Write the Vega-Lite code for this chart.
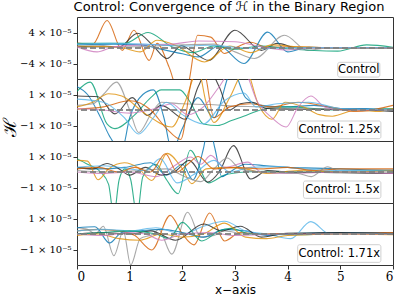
{
"$schema": "https://vega.github.io/schema/vega-lite/v6.json",
"padding": {"left": 0, "top": 0, "right": 3, "bottom": 2},
"spacing": 0,
"bounds": "flush",
"config": {
 "view": {"stroke": "#333", "strokeWidth": 1},
 "font": "DejaVu Sans",
 "axis": {"zindex": 1, "grid": false, "domain": false, "tickColor": "#333", "tickSize": 4, "labelFont": "DejaVu Serif", "labelFontSize": 10, "labelColor": "#000", "labelPadding": 2, "labelOverlap": false, "labelBound": false, "titleFontWeight": "normal"}
},
"datasets": {"d": [
{"p":1,"s":"red","x":0,"y":1.3},{"p":1,"s":"red","x":0.3,"y":1.0},{"p":1,"s":"red","x":0.57,"y":7.1},{"p":1,"s":"red","x":0.86,"y":-0.6},{"p":1,"s":"red","x":1.08,"y":4.6},{"p":1,"s":"red","x":1.37,"y":-3.2},{"p":1,"s":"red","x":1.52,"y":1.2},{"p":1,"s":"red","x":1.75,"y":-5},{"p":1,"s":"red","x":1.95,"y":-12},{"p":1,"s":"red","x":2.1,"y":-10},{"p":1,"s":"red","x":2.29,"y":3.3},{"p":1,"s":"red","x":2.54,"y":2.8},{"p":1,"s":"red","x":2.8,"y":-1.4},{"p":1,"s":"red","x":3.05,"y":0.3},{"p":1,"s":"red","x":3.3,"y":1.5},{"p":1,"s":"red","x":3.6,"y":0.2},{"p":1,"s":"red","x":4,"y":0.3},{"p":1,"s":"red","x":5,"y":0.1},{"p":1,"s":"red","x":6,"y":0.1},
{"p":1,"s":"dark","x":0,"y":0.3},{"p":1,"s":"dark","x":0.5,"y":0.5},{"p":1,"s":"dark","x":0.8,"y":0.3},{"p":1,"s":"dark","x":1.15,"y":3.8},{"p":1,"s":"dark","x":1.45,"y":0.5},{"p":1,"s":"dark","x":1.71,"y":-2.7},{"p":1,"s":"dark","x":1.98,"y":0.6},{"p":1,"s":"dark","x":2.2,"y":-1.0},{"p":1,"s":"dark","x":2.5,"y":-3.2},{"p":1,"s":"dark","x":3.0,"y":4.6},{"p":1,"s":"dark","x":3.5,"y":-0.6},{"p":1,"s":"dark","x":3.8,"y":1.2},{"p":1,"s":"dark","x":4.2,"y":0},{"p":1,"s":"dark","x":5,"y":0.1},{"p":1,"s":"dark","x":6,"y":0},
{"p":1,"s":"blue","x":0,"y":0.8},{"p":1,"s":"blue","x":0.7,"y":1.0},{"p":1,"s":"blue","x":1.2,"y":0.8},{"p":1,"s":"blue","x":1.6,"y":-0.3},{"p":1,"s":"blue","x":2.0,"y":-1.5},{"p":1,"s":"blue","x":2.3,"y":-2.3},{"p":1,"s":"blue","x":2.7,"y":0.5},{"p":1,"s":"blue","x":3.17,"y":-4.0},{"p":1,"s":"blue","x":3.62,"y":4.1},{"p":1,"s":"blue","x":4.0,"y":-1.0},{"p":1,"s":"blue","x":4.4,"y":0.2},{"p":1,"s":"blue","x":5,"y":0},{"p":1,"s":"blue","x":6,"y":0},
{"p":1,"s":"gray","x":0,"y":0.2},{"p":1,"s":"gray","x":1,"y":0.3},{"p":1,"s":"gray","x":2.0,"y":0.8},{"p":1,"s":"gray","x":2.6,"y":1.0},{"p":1,"s":"gray","x":3.0,"y":-1.0},{"p":1,"s":"gray","x":3.37,"y":-2.7},{"p":1,"s":"gray","x":3.94,"y":3.3},{"p":1,"s":"gray","x":4.38,"y":-0.6},{"p":1,"s":"gray","x":4.8,"y":0.1},{"p":1,"s":"gray","x":6,"y":0},
{"p":1,"s":"green","x":0,"y":1.2},{"p":1,"s":"green","x":0.9,"y":1.2},{"p":1,"s":"green","x":1.35,"y":4.0},{"p":1,"s":"green","x":1.8,"y":0.3},{"p":1,"s":"green","x":2.2,"y":-1.2},{"p":1,"s":"green","x":2.6,"y":0.5},{"p":1,"s":"green","x":3.0,"y":-0.3},{"p":1,"s":"green","x":3.5,"y":0.5},{"p":1,"s":"green","x":4,"y":-0.2},{"p":1,"s":"green","x":4.95,"y":-0.8},{"p":1,"s":"green","x":5.5,"y":0.8},{"p":1,"s":"green","x":6,"y":0.2},
{"p":1,"s":"gold","x":0,"y":0.5},{"p":1,"s":"gold","x":0.8,"y":0.2},{"p":1,"s":"gold","x":1.2,"y":-1.0},{"p":1,"s":"gold","x":1.52,"y":2.0},{"p":1,"s":"gold","x":1.9,"y":0.5},{"p":1,"s":"gold","x":2.42,"y":-3.6},{"p":1,"s":"gold","x":2.9,"y":0.5},{"p":1,"s":"gold","x":3.3,"y":-1.2},{"p":1,"s":"gold","x":3.7,"y":0.8},{"p":1,"s":"gold","x":4.2,"y":0.3},{"p":1,"s":"gold","x":5,"y":0},{"p":1,"s":"gold","x":6,"y":0},
{"p":1,"s":"pink","x":0,"y":0.3},{"p":1,"s":"pink","x":0.38,"y":-1.0},{"p":1,"s":"pink","x":0.7,"y":0.3},{"p":1,"s":"pink","x":1.2,"y":0.8},{"p":1,"s":"pink","x":1.8,"y":1.0},{"p":1,"s":"pink","x":2.3,"y":1.8},{"p":1,"s":"pink","x":3.0,"y":1.6},{"p":1,"s":"pink","x":3.5,"y":0.3},{"p":1,"s":"pink","x":4.0,"y":-0.5},{"p":1,"s":"pink","x":4.6,"y":0.1},{"p":1,"s":"pink","x":6,"y":0},
{"p":1,"s":"lblue","x":0,"y":1.0},{"p":1,"s":"lblue","x":0.6,"y":1.2},{"p":1,"s":"lblue","x":1.3,"y":1.0},{"p":1,"s":"lblue","x":2.0,"y":0.5},{"p":1,"s":"lblue","x":2.5,"y":0.7},{"p":1,"s":"lblue","x":3.0,"y":0.2},{"p":1,"s":"lblue","x":3.5,"y":-0.2},{"p":1,"s":"lblue","x":4,"y":0.1},{"p":1,"s":"lblue","x":6,"y":0.05},

{"p":2,"s":"blue","x":0,"y":1.5},{"p":2,"s":"blue","x":0.2,"y":1.0},{"p":2,"s":"blue","x":0.45,"y":-0.5},{"p":2,"s":"blue","x":0.62,"y":-1.7},{"p":2,"s":"blue","x":0.85,"y":-2.6},{"p":2,"s":"blue","x":1.0,"y":-0.5},{"p":2,"s":"blue","x":1.25,"y":1.0},{"p":2,"s":"blue","x":1.45,"y":1.3},{"p":2,"s":"blue","x":1.65,"y":-0.5},{"p":2,"s":"blue","x":1.8,"y":-2.6},{"p":2,"s":"blue","x":2.0,"y":-1.2},{"p":2,"s":"blue","x":2.3,"y":0.8},{"p":2,"s":"blue","x":2.6,"y":-0.5},{"p":2,"s":"blue","x":2.95,"y":2.6},{"p":2,"s":"blue","x":3.2,"y":0.8},{"p":2,"s":"blue","x":3.5,"y":0.3},{"p":2,"s":"blue","x":4,"y":0.2},{"p":2,"s":"blue","x":4.5,"y":0.3},{"p":2,"s":"blue","x":5,"y":0.1},{"p":2,"s":"blue","x":5.5,"y":0.1},{"p":2,"s":"blue","x":6,"y":0},
{"p":2,"s":"green","x":0,"y":1.2},{"p":2,"s":"green","x":0.25,"y":1.8},{"p":2,"s":"green","x":0.57,"y":-0.9},{"p":2,"s":"green","x":0.72,"y":-1.2},{"p":2,"s":"green","x":1.1,"y":-0.3},{"p":2,"s":"green","x":1.4,"y":0.8},{"p":2,"s":"green","x":1.6,"y":1.3},{"p":2,"s":"green","x":1.95,"y":1.3},{"p":2,"s":"green","x":2.15,"y":0.5},{"p":2,"s":"green","x":2.4,"y":-0.9},{"p":2,"s":"green","x":2.67,"y":-1.0},{"p":2,"s":"green","x":2.92,"y":-0.7},{"p":2,"s":"green","x":3.24,"y":-0.3},{"p":2,"s":"green","x":3.6,"y":0.1},{"p":2,"s":"green","x":4,"y":0.2},{"p":2,"s":"green","x":4.5,"y":0.1},{"p":2,"s":"green","x":5,"y":0},{"p":2,"s":"green","x":6,"y":0.1},
{"p":2,"s":"gray","x":0,"y":0.3},{"p":2,"s":"gray","x":0.3,"y":0.4},{"p":2,"s":"gray","x":0.5,"y":1.0},{"p":2,"s":"gray","x":0.75,"y":1.8},{"p":2,"s":"gray","x":1.0,"y":0},{"p":2,"s":"gray","x":1.17,"y":-1.45},{"p":2,"s":"gray","x":1.4,"y":-0.3},{"p":2,"s":"gray","x":1.6,"y":0.5},{"p":2,"s":"gray","x":2.0,"y":0.4},{"p":2,"s":"gray","x":2.5,"y":0.35},{"p":2,"s":"gray","x":3.0,"y":0.25},{"p":2,"s":"gray","x":3.5,"y":0.2},{"p":2,"s":"gray","x":4,"y":0.1},{"p":2,"s":"gray","x":5,"y":0.05},{"p":2,"s":"gray","x":6,"y":0},
{"p":2,"s":"dark","x":0,"y":0.9},{"p":2,"s":"dark","x":0.4,"y":0.85},{"p":2,"s":"dark","x":0.72,"y":-0.25},{"p":2,"s":"dark","x":1.05,"y":0.8},{"p":2,"s":"dark","x":1.33,"y":-0.35},{"p":2,"s":"dark","x":1.6,"y":0.3},{"p":2,"s":"dark","x":2.06,"y":-0.6},{"p":2,"s":"dark","x":2.3,"y":1.5},{"p":2,"s":"dark","x":2.5,"y":2.6},{"p":2,"s":"dark","x":2.7,"y":1.5},{"p":2,"s":"dark","x":2.89,"y":0},{"p":2,"s":"dark","x":3.1,"y":0.4},{"p":2,"s":"dark","x":3.33,"y":0.5},{"p":2,"s":"dark","x":3.6,"y":0.1},{"p":2,"s":"dark","x":4,"y":0.05},{"p":2,"s":"dark","x":5,"y":0.05},{"p":2,"s":"dark","x":6,"y":-0.1},
{"p":2,"s":"gold","x":0,"y":0.2},{"p":2,"s":"gold","x":0.3,"y":0.5},{"p":2,"s":"gold","x":0.6,"y":1.05},{"p":2,"s":"gold","x":0.85,"y":0.9},{"p":2,"s":"gold","x":1.3,"y":-0.25},{"p":2,"s":"gold","x":1.8,"y":-1.1},{"p":2,"s":"gold","x":2.05,"y":0.5},{"p":2,"s":"gold","x":2.3,"y":2.6},{"p":2,"s":"gold","x":2.45,"y":0.5},{"p":2,"s":"gold","x":2.6,"y":-0.8},{"p":2,"s":"gold","x":2.9,"y":0.8},{"p":2,"s":"gold","x":3.2,"y":2.6},{"p":2,"s":"gold","x":3.45,"y":0.3},{"p":2,"s":"gold","x":3.7,"y":-0.6},{"p":2,"s":"gold","x":3.95,"y":0.5},{"p":2,"s":"gold","x":4.3,"y":0.2},{"p":2,"s":"gold","x":4.6,"y":-0.3},{"p":2,"s":"gold","x":4.85,"y":-0.4},{"p":2,"s":"gold","x":5.3,"y":0},{"p":2,"s":"gold","x":5.7,"y":-0.1},{"p":2,"s":"gold","x":6,"y":0.1},
{"p":2,"s":"red","x":0,"y":0.05},{"p":2,"s":"red","x":0.5,"y":0.2},{"p":2,"s":"red","x":1.0,"y":0.6},{"p":2,"s":"red","x":1.4,"y":0},{"p":2,"s":"red","x":1.7,"y":-1.2},{"p":2,"s":"red","x":1.97,"y":-1.9},{"p":2,"s":"red","x":2.2,"y":2.2},{"p":2,"s":"red","x":2.4,"y":2.6},{"p":2,"s":"red","x":2.6,"y":-0.5},{"p":2,"s":"red","x":2.9,"y":0.2},{"p":2,"s":"red","x":3.3,"y":0.4},{"p":2,"s":"red","x":3.7,"y":0.2},{"p":2,"s":"red","x":4.2,"y":0.5},{"p":2,"s":"red","x":4.8,"y":0.2},{"p":2,"s":"red","x":5.3,"y":-0.1},{"p":2,"s":"red","x":6,"y":0.3},
{"p":2,"s":"pink","x":0,"y":0.1},{"p":2,"s":"pink","x":0.5,"y":0},{"p":2,"s":"pink","x":1.0,"y":-0.2},{"p":2,"s":"pink","x":1.5,"y":0.1},{"p":2,"s":"pink","x":1.8,"y":0.4},{"p":2,"s":"pink","x":2.1,"y":-0.3},{"p":2,"s":"pink","x":2.4,"y":0.2},{"p":2,"s":"pink","x":2.7,"y":1.5},{"p":2,"s":"pink","x":2.95,"y":2.6},{"p":2,"s":"pink","x":3.15,"y":2.6},{"p":2,"s":"pink","x":3.43,"y":0.5},{"p":2,"s":"pink","x":3.7,"y":-0.5},{"p":2,"s":"pink","x":3.97,"y":-1.1},{"p":2,"s":"pink","x":4.2,"y":0.2},{"p":2,"s":"pink","x":4.44,"y":0.9},{"p":2,"s":"pink","x":4.7,"y":0.2},{"p":2,"s":"pink","x":5,"y":0},{"p":2,"s":"pink","x":6,"y":0},
{"p":2,"s":"lblue","x":0,"y":0.7},{"p":2,"s":"lblue","x":0.5,"y":0.5},{"p":2,"s":"lblue","x":0.9,"y":-0.5},{"p":2,"s":"lblue","x":1.17,"y":-1.55},{"p":2,"s":"lblue","x":1.45,"y":-0.5},{"p":2,"s":"lblue","x":1.7,"y":0.5},{"p":2,"s":"lblue","x":2.0,"y":-0.3},{"p":2,"s":"lblue","x":2.4,"y":-0.9},{"p":2,"s":"lblue","x":2.8,"y":0.6},{"p":2,"s":"lblue","x":3.17,"y":1.1},{"p":2,"s":"lblue","x":3.4,"y":0.2},{"p":2,"s":"lblue","x":3.8,"y":0.4},{"p":2,"s":"lblue","x":4.4,"y":0.5},{"p":2,"s":"lblue","x":5,"y":0.1},{"p":2,"s":"lblue","x":6,"y":0},

{"p":3,"s":"green","x":0,"y":0.86},{"p":3,"s":"green","x":0.2,"y":0.5},{"p":3,"s":"green","x":0.45,"y":0},{"p":3,"s":"green","x":0.6,"y":-0.8},{"p":3,"s":"green","x":0.7,"y":-2.8},{"p":3,"s":"green","x":0.8,"y":-0.5},{"p":3,"s":"green","x":0.91,"y":0.2},{"p":3,"s":"green","x":1.02,"y":-0.5},{"p":3,"s":"green","x":1.14,"y":-2.8},{"p":3,"s":"green","x":1.25,"y":-0.3},{"p":3,"s":"green","x":1.5,"y":0.5},{"p":3,"s":"green","x":1.7,"y":-0.5},{"p":3,"s":"green","x":1.92,"y":-1.4},{"p":3,"s":"green","x":2.15,"y":1.4},{"p":3,"s":"green","x":2.5,"y":-0.7},{"p":3,"s":"green","x":2.8,"y":-0.2},{"p":3,"s":"green","x":3.2,"y":0},{"p":3,"s":"green","x":3.6,"y":0.05},{"p":3,"s":"green","x":4.2,"y":0},{"p":3,"s":"green","x":5,"y":0.05},{"p":3,"s":"green","x":6,"y":0.1},
{"p":3,"s":"blue","x":0,"y":0.3},{"p":3,"s":"blue","x":0.4,"y":0.2},{"p":3,"s":"blue","x":0.9,"y":0.3},{"p":3,"s":"blue","x":1.4,"y":0.6},{"p":3,"s":"blue","x":1.7,"y":-0.2},{"p":3,"s":"blue","x":2.0,"y":0.5},{"p":3,"s":"blue","x":2.2,"y":-0.5},{"p":3,"s":"blue","x":2.4,"y":1.5},{"p":3,"s":"blue","x":2.5,"y":3.0},{"p":3,"s":"blue","x":2.62,"y":1.5},{"p":3,"s":"blue","x":2.75,"y":-0.3},{"p":3,"s":"blue","x":2.9,"y":0},{"p":3,"s":"blue","x":3.2,"y":0.5},{"p":3,"s":"blue","x":3.6,"y":0.4},{"p":3,"s":"blue","x":4,"y":0.3},{"p":3,"s":"blue","x":4.5,"y":0.25},{"p":3,"s":"blue","x":5,"y":0.2},{"p":3,"s":"blue","x":6,"y":0.1},
{"p":3,"s":"dark","x":0,"y":0.3},{"p":3,"s":"dark","x":0.3,"y":0.2},{"p":3,"s":"dark","x":0.57,"y":0.55},{"p":3,"s":"dark","x":0.8,"y":0.2},{"p":3,"s":"dark","x":1.0,"y":-0.2},{"p":3,"s":"dark","x":1.3,"y":0.3},{"p":3,"s":"dark","x":1.6,"y":-0.2},{"p":3,"s":"dark","x":1.85,"y":0},{"p":3,"s":"dark","x":2.13,"y":0.75},{"p":3,"s":"dark","x":2.48,"y":-0.65},{"p":3,"s":"dark","x":2.7,"y":0},{"p":3,"s":"dark","x":2.97,"y":1.7},{"p":3,"s":"dark","x":3.3,"y":-0.45},{"p":3,"s":"dark","x":3.62,"y":0.1},{"p":3,"s":"dark","x":4,"y":0},{"p":3,"s":"dark","x":5,"y":-0.05},{"p":3,"s":"dark","x":6,"y":-0.1},
{"p":3,"s":"gold","x":0,"y":0.75},{"p":3,"s":"gold","x":0.2,"y":0.7},{"p":3,"s":"gold","x":0.4,"y":-0.5},{"p":3,"s":"gold","x":0.6,"y":0.2},{"p":3,"s":"gold","x":0.9,"y":0.6},{"p":3,"s":"gold","x":1.15,"y":0.3},{"p":3,"s":"gold","x":1.42,"y":-0.55},{"p":3,"s":"gold","x":1.71,"y":1.2},{"p":3,"s":"gold","x":2.0,"y":0.2},{"p":3,"s":"gold","x":2.18,"y":-0.75},{"p":3,"s":"gold","x":2.45,"y":0.2},{"p":3,"s":"gold","x":2.8,"y":0.3},{"p":3,"s":"gold","x":3.2,"y":0.2},{"p":3,"s":"gold","x":3.6,"y":-0.1},{"p":3,"s":"gold","x":4.2,"y":0.1},{"p":3,"s":"gold","x":5,"y":0},{"p":3,"s":"gold","x":6,"y":0.1},
{"p":3,"s":"pink","x":0,"y":0},{"p":3,"s":"pink","x":0.5,"y":-0.1},{"p":3,"s":"pink","x":1.0,"y":0},{"p":3,"s":"pink","x":1.5,"y":-0.3},{"p":3,"s":"pink","x":1.85,"y":0.4},{"p":3,"s":"pink","x":2.16,"y":0.97},{"p":3,"s":"pink","x":2.35,"y":0.5},{"p":3,"s":"pink","x":2.54,"y":1.07},{"p":3,"s":"pink","x":2.8,"y":0.3},{"p":3,"s":"pink","x":3.24,"y":0.64},{"p":3,"s":"pink","x":3.5,"y":0},{"p":3,"s":"pink","x":4,"y":-0.1},{"p":3,"s":"pink","x":5,"y":0},{"p":3,"s":"pink","x":6,"y":-0.1},
{"p":3,"s":"gray","x":0,"y":0.1},{"p":3,"s":"gray","x":0.6,"y":0},{"p":3,"s":"gray","x":1.2,"y":0.1},{"p":3,"s":"gray","x":1.7,"y":0.2},{"p":3,"s":"gray","x":2.05,"y":-0.3},{"p":3,"s":"gray","x":2.35,"y":-0.62},{"p":3,"s":"gray","x":2.6,"y":0.2},{"p":3,"s":"gray","x":2.85,"y":0.9},{"p":3,"s":"gray","x":3.1,"y":0.2},{"p":3,"s":"gray","x":3.5,"y":0},{"p":3,"s":"gray","x":4.2,"y":-0.1},{"p":3,"s":"gray","x":4.45,"y":-0.3},{"p":3,"s":"gray","x":4.76,"y":0.34},{"p":3,"s":"gray","x":5.0,"y":0},{"p":3,"s":"gray","x":6,"y":0},
{"p":3,"s":"lblue","x":0,"y":0.3},{"p":3,"s":"lblue","x":0.5,"y":0.4},{"p":3,"s":"lblue","x":1.0,"y":0.2},{"p":3,"s":"lblue","x":1.3,"y":0.1},{"p":3,"s":"lblue","x":1.58,"y":0.86},{"p":3,"s":"lblue","x":1.9,"y":-0.7},{"p":3,"s":"lblue","x":2.2,"y":-0.2},{"p":3,"s":"lblue","x":2.6,"y":0.75},{"p":3,"s":"lblue","x":2.9,"y":0},{"p":3,"s":"lblue","x":3.3,"y":0.3},{"p":3,"s":"lblue","x":3.8,"y":0.35},{"p":3,"s":"lblue","x":4.3,"y":0.2},{"p":3,"s":"lblue","x":5,"y":0.1},{"p":3,"s":"lblue","x":6,"y":0.15},
{"p":3,"s":"red","x":0,"y":0.2},{"p":3,"s":"red","x":0.4,"y":0.3},{"p":3,"s":"red","x":0.8,"y":0},{"p":3,"s":"red","x":1.1,"y":0.3},{"p":3,"s":"red","x":1.4,"y":0},{"p":3,"s":"red","x":1.68,"y":1.18},{"p":3,"s":"red","x":1.9,"y":0},{"p":3,"s":"red","x":2.1,"y":0.5},{"p":3,"s":"red","x":2.3,"y":1.0},{"p":3,"s":"red","x":2.6,"y":0.2},{"p":3,"s":"red","x":3.0,"y":0.3},{"p":3,"s":"red","x":3.5,"y":0.2},{"p":3,"s":"red","x":4,"y":0.3},{"p":3,"s":"red","x":4.5,"y":0.1},{"p":3,"s":"red","x":5,"y":0.2},{"p":3,"s":"red","x":6,"y":0.2},

{"p":4,"s":"gray","x":0,"y":0.4},{"p":4,"s":"gray","x":0.2,"y":0.3},{"p":4,"s":"gray","x":0.35,"y":0},{"p":4,"s":"gray","x":0.5,"y":0.5},{"p":4,"s":"gray","x":0.7,"y":-1.4},{"p":4,"s":"gray","x":0.88,"y":0.2},{"p":4,"s":"gray","x":1.02,"y":-2.0},{"p":4,"s":"gray","x":1.2,"y":-0.3},{"p":4,"s":"gray","x":1.45,"y":0},{"p":4,"s":"gray","x":1.55,"y":0.3},{"p":4,"s":"gray","x":1.8,"y":-1.3},{"p":4,"s":"gray","x":2.1,"y":1.4},{"p":4,"s":"gray","x":2.35,"y":-0.2},{"p":4,"s":"gray","x":2.6,"y":-0.1},{"p":4,"s":"gray","x":2.8,"y":0.2},{"p":4,"s":"gray","x":3.2,"y":0},{"p":4,"s":"gray","x":4,"y":0},{"p":4,"s":"gray","x":5,"y":0.05},{"p":4,"s":"gray","x":6,"y":0},
{"p":4,"s":"red","x":0,"y":0.2},{"p":4,"s":"red","x":0.4,"y":0.3},{"p":4,"s":"red","x":0.8,"y":0.2},{"p":4,"s":"red","x":1.1,"y":-0.1},{"p":4,"s":"red","x":1.42,"y":-1.03},{"p":4,"s":"red","x":1.77,"y":1.2},{"p":4,"s":"red","x":2.0,"y":0},{"p":4,"s":"red","x":2.22,"y":-0.7},{"p":4,"s":"red","x":2.52,"y":1.35},{"p":4,"s":"red","x":2.8,"y":-0.45},{"p":4,"s":"red","x":3.1,"y":0.1},{"p":4,"s":"red","x":3.5,"y":0},{"p":4,"s":"red","x":4,"y":0.05},{"p":4,"s":"red","x":5,"y":0.1},{"p":4,"s":"red","x":6,"y":0.1},
{"p":4,"s":"blue","x":0,"y":0.4},{"p":4,"s":"blue","x":0.34,"y":0.47},{"p":4,"s":"blue","x":0.62,"y":-0.58},{"p":4,"s":"blue","x":0.85,"y":0.1},{"p":4,"s":"blue","x":1.2,"y":0.2},{"p":4,"s":"blue","x":1.6,"y":0.3},{"p":4,"s":"blue","x":2.0,"y":0.1},{"p":4,"s":"blue","x":2.4,"y":-0.2},{"p":4,"s":"blue","x":2.8,"y":0.3},{"p":4,"s":"blue","x":3.2,"y":0.2},{"p":4,"s":"blue","x":3.6,"y":-0.1},{"p":4,"s":"blue","x":4,"y":0.05},{"p":4,"s":"blue","x":5,"y":0.1},{"p":4,"s":"blue","x":6,"y":0},
{"p":4,"s":"lblue","x":0,"y":0.2},{"p":4,"s":"lblue","x":0.5,"y":0.3},{"p":4,"s":"lblue","x":1.0,"y":0.2},{"p":4,"s":"lblue","x":1.5,"y":0.4},{"p":4,"s":"lblue","x":2.0,"y":0},{"p":4,"s":"lblue","x":2.4,"y":0.5},{"p":4,"s":"lblue","x":2.8,"y":0.82},{"p":4,"s":"lblue","x":3.2,"y":0.2},{"p":4,"s":"lblue","x":3.6,"y":0},{"p":4,"s":"lblue","x":4.06,"y":-0.3},{"p":4,"s":"lblue","x":4.44,"y":0.8},{"p":4,"s":"lblue","x":4.8,"y":0},{"p":4,"s":"lblue","x":5.2,"y":0.1},{"p":4,"s":"lblue","x":6,"y":0},
{"p":4,"s":"dark","x":0,"y":0},{"p":4,"s":"dark","x":0.5,"y":0.1},{"p":4,"s":"dark","x":1.0,"y":0},{"p":4,"s":"dark","x":1.4,"y":0.2},{"p":4,"s":"dark","x":1.87,"y":-0.4},{"p":4,"s":"dark","x":2.41,"y":0.65},{"p":4,"s":"dark","x":2.75,"y":0.2},{"p":4,"s":"dark","x":3.1,"y":0.5},{"p":4,"s":"dark","x":3.5,"y":-0.2},{"p":4,"s":"dark","x":3.9,"y":0},{"p":4,"s":"dark","x":4.5,"y":0.05},{"p":4,"s":"dark","x":5,"y":0.1},{"p":4,"s":"dark","x":6,"y":0.05},
{"p":4,"s":"green","x":0,"y":0},{"p":4,"s":"green","x":0.5,"y":0.1},{"p":4,"s":"green","x":1.0,"y":0.2},{"p":4,"s":"green","x":1.5,"y":0},{"p":4,"s":"green","x":1.75,"y":-0.3},{"p":4,"s":"green","x":2.0,"y":0.75},{"p":4,"s":"green","x":2.37,"y":-0.45},{"p":4,"s":"green","x":2.7,"y":0.2},{"p":4,"s":"green","x":2.92,"y":0.37},{"p":4,"s":"green","x":3.3,"y":0},{"p":4,"s":"green","x":4,"y":-0.05},{"p":4,"s":"green","x":5,"y":0},{"p":4,"s":"green","x":6,"y":0},
{"p":4,"s":"gold","x":0,"y":-0.1},{"p":4,"s":"gold","x":0.4,"y":0},{"p":4,"s":"gold","x":0.8,"y":-0.3},{"p":4,"s":"gold","x":1.2,"y":-0.4},{"p":4,"s":"gold","x":1.6,"y":0},{"p":4,"s":"gold","x":2.0,"y":-0.2},{"p":4,"s":"gold","x":2.4,"y":0},{"p":4,"s":"gold","x":2.8,"y":0.7},{"p":4,"s":"gold","x":3.2,"y":-0.2},{"p":4,"s":"gold","x":3.6,"y":-0.3},{"p":4,"s":"gold","x":4,"y":-0.1},{"p":4,"s":"gold","x":5,"y":0},{"p":4,"s":"gold","x":6,"y":-0.05},
{"p":4,"s":"pink","x":0,"y":0},{"p":4,"s":"pink","x":0.5,"y":-0.1},{"p":4,"s":"pink","x":1.0,"y":0.1},{"p":4,"s":"pink","x":1.3,"y":0},{"p":4,"s":"pink","x":1.61,"y":-0.4},{"p":4,"s":"pink","x":2.0,"y":0},{"p":4,"s":"pink","x":2.5,"y":0.1},{"p":4,"s":"pink","x":3.0,"y":-0.1},{"p":4,"s":"pink","x":4,"y":0},{"p":4,"s":"pink","x":6,"y":0}
]},
"vconcat": [
 {"width": 316, "height": 62,
  "title": {"text": "Control: Convergence of ℋ in the Binary Region", "fontSize": 13, "fontWeight": "normal", "offset": 3, "dx": -6},
  "layer": [
   {"data": {"name": "d"}, "transform": [{"filter": "datum.p == 1"}],
    "mark": {"type": "line", "interpolate": "monotone", "strokeWidth": 1.1, "opacity": 0.8, "clip": true}, "encoding": {
     "x": {"field": "x", "type": "quantitative", "scale": {"domain": [0, 6], "nice": false}, "axis": null},
     "y": {"field": "y", "type": "quantitative", "scale": {"domain": [-8, 8], "nice": false}, "axis": {"values": [-4, 0, 4], "title": null, "labelOverlap": false, "labelExpr": "datum.value == 0 ? '0' : (datum.value > 0 ? '4 × 10⁻⁵' : '−4 × 10⁻⁵')"}},
     "color": {"field": "s", "type": "nominal", "legend": null, "scale": {"domain": ["blue","gold","green","red","pink","gray","lblue","dark"], "range": ["#0173b2","#de8f05","#029e73","#d55e00","#cc78bc","#949494","#56b4e9","#222222"]}},
     "detail": {"field": "s"}}},
   {"data": {"values": [{}]}, "mark": {"type": "rule", "color": "#808080", "strokeWidth": 2, "strokeDash": [6, 3], "opacity": 0.9}, "encoding": {"y": {"datum": 0}}},
   {"data": {"values": [{}]}, "mark": {"type": "rect", "fill": "white", "stroke": "#cccccc", "cornerRadius": 2, "opacity": 0.9}, "encoding": {"x": {"datum": 4.95}, "x2": {"datum": 5.75}, "y": {"datum": -3.7}, "y2": {"datum": -7.5}}},
   {"data": {"values": [{}]}, "mark": {"type": "text", "fontSize": 11.5, "font": "DejaVu Sans"}, "encoding": {"x": {"datum": 5.35}, "y": {"datum": -5.6}, "text": {"value": "Control"}}}
  ]},
 {"width": 316, "height": 62,
  "layer": [
   {"data": {"name": "d"}, "transform": [{"filter": "datum.p == 2"}],
    "mark": {"type": "line", "interpolate": "monotone", "strokeWidth": 1.1, "opacity": 0.8, "clip": true}, "encoding": {
     "x": {"field": "x", "type": "quantitative", "scale": {"domain": [0, 6], "nice": false}, "axis": null},
     "y": {"field": "y", "type": "quantitative", "scale": {"domain": [-2, 2], "nice": false}, "axis": {"values": [-1, 0, 1], "title": "ℋ", "titleFont": "DejaVu Serif", "titleFontSize": 18, "titleX": -58, "titleY": 48, "labelOverlap": false, "labelExpr": "datum.value == 0 ? '0' : (datum.value > 0 ? '1 × 10⁻⁵' : '−1 × 10⁻⁵')"}},
     "color": {"field": "s", "type": "nominal", "legend": null, "scale": {"domain": ["blue","gold","green","red","pink","gray","lblue","dark"], "range": ["#0173b2","#de8f05","#029e73","#d55e00","#cc78bc","#949494","#56b4e9","#222222"]}},
     "detail": {"field": "s"}}},
   {"data": {"values": [{}]}, "mark": {"type": "rule", "color": "#808080", "strokeWidth": 2, "strokeDash": [6, 3], "opacity": 0.9}, "encoding": {"y": {"datum": 0}}},
   {"data": {"values": [{}]}, "mark": {"type": "rect", "fill": "white", "stroke": "#cccccc", "cornerRadius": 2, "opacity": 0.9}, "encoding": {"x": {"datum": 4.19}, "x2": {"datum": 5.77}, "y": {"datum": -0.71}, "y2": {"datum": -1.85}}},
   {"data": {"values": [{}]}, "mark": {"type": "text", "fontSize": 11.5, "font": "DejaVu Sans"}, "encoding": {"x": {"datum": 4.98}, "y": {"datum": -1.26}, "text": {"value": "Control:  1.25x"}}}
  ]},
 {"width": 316, "height": 62,
  "layer": [
   {"data": {"name": "d"}, "transform": [{"filter": "datum.p == 3"}],
    "mark": {"type": "line", "interpolate": "monotone", "strokeWidth": 1.1, "opacity": 0.8, "clip": true}, "encoding": {
     "x": {"field": "x", "type": "quantitative", "scale": {"domain": [0, 6], "nice": false}, "axis": null},
     "y": {"field": "y", "type": "quantitative", "scale": {"domain": [-2, 2], "nice": false}, "axis": {"values": [-1, 0, 1], "title": null, "labelOverlap": false, "labelExpr": "datum.value == 0 ? '0' : (datum.value > 0 ? '1 × 10⁻⁵' : '−1 × 10⁻⁵')"}},
     "color": {"field": "s", "type": "nominal", "legend": null, "scale": {"domain": ["blue","gold","green","red","pink","gray","lblue","dark"], "range": ["#0173b2","#de8f05","#029e73","#d55e00","#cc78bc","#949494","#56b4e9","#222222"]}},
     "detail": {"field": "s"}}},
   {"data": {"values": [{}]}, "mark": {"type": "rule", "color": "#808080", "strokeWidth": 2, "strokeDash": [6, 3], "opacity": 0.9}, "encoding": {"y": {"datum": 0}}},
   {"data": {"values": [{}]}, "mark": {"type": "rect", "fill": "white", "stroke": "#cccccc", "cornerRadius": 2, "opacity": 0.9}, "encoding": {"x": {"datum": 4.3}, "x2": {"datum": 5.77}, "y": {"datum": -0.58}, "y2": {"datum": -1.7}}},
   {"data": {"values": [{}]}, "mark": {"type": "text", "fontSize": 11.5, "font": "DejaVu Sans"}, "encoding": {"x": {"datum": 5.04}, "y": {"datum": -1.13}, "text": {"value": "Control:  1.5x"}}}
  ]},
 {"width": 316, "height": 62,
  "layer": [
   {"data": {"name": "d"}, "transform": [{"filter": "datum.p == 4"}],
    "mark": {"type": "line", "interpolate": "monotone", "strokeWidth": 1.1, "opacity": 0.8, "clip": true}, "encoding": {
     "x": {"field": "x", "type": "quantitative", "scale": {"domain": [0, 6], "nice": false}, "axis": {"values": [0,1,2,3,4,5,6], "title": "x−axis", "titleFont": "DejaVu Sans", "titleFontSize": 12, "titlePadding": 2, "labelFontSize": 12}},
     "y": {"field": "y", "type": "quantitative", "scale": {"domain": [-2, 2], "nice": false}, "axis": {"values": [-1, 0, 1], "title": null, "labelOverlap": false, "labelExpr": "datum.value == 0 ? '0' : (datum.value > 0 ? '1 × 10⁻⁵' : '−1 × 10⁻⁵')"}},
     "color": {"field": "s", "type": "nominal", "legend": null, "scale": {"domain": ["blue","gold","green","red","pink","gray","lblue","dark"], "range": ["#0173b2","#de8f05","#029e73","#d55e00","#cc78bc","#949494","#56b4e9","#222222"]}},
     "detail": {"field": "s"}}},
   {"data": {"values": [{}]}, "mark": {"type": "rule", "color": "#808080", "strokeWidth": 2, "strokeDash": [6, 3], "opacity": 0.9}, "encoding": {"y": {"datum": 0}}},
   {"data": {"values": [{}]}, "mark": {"type": "rect", "fill": "white", "stroke": "#cccccc", "cornerRadius": 2, "opacity": 0.9}, "encoding": {"x": {"datum": 4.19}, "x2": {"datum": 5.77}, "y": {"datum": -0.69}, "y2": {"datum": -1.83}}},
   {"data": {"values": [{}]}, "mark": {"type": "text", "fontSize": 11.5, "font": "DejaVu Sans"}, "encoding": {"x": {"datum": 4.98}, "y": {"datum": -1.26}, "text": {"value": "Control:  1.71x"}}}
  ]}
]
}
